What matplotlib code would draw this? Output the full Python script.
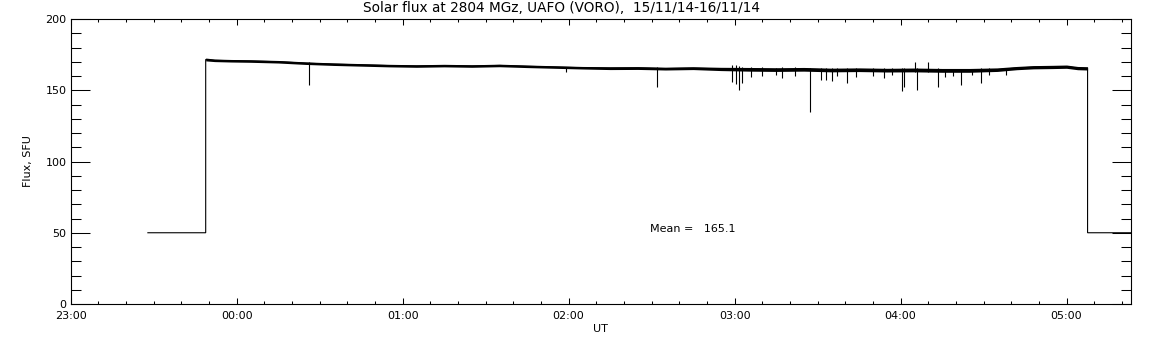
import matplotlib
matplotlib.use("Agg")
import matplotlib.pyplot as plt
from matplotlib.ticker import MultipleLocator, FixedLocator

# ---- data (time in minutes after 23:00 UT, flux in SFU) ----
band_t = [48.8, 52, 58, 65, 75, 85, 95, 105, 115, 125, 135, 145, 155, 165,
          175, 185, 195, 205, 215, 225, 235, 245, 255, 265, 275, 285, 295,
          305, 315, 325, 335, 342, 348, 355, 360, 364, 367.6]
band_c = [171.6, 171.0, 170.7, 170.5, 170.0, 169.0, 168.3, 167.8, 167.3,
          167.0, 167.3, 167.0, 167.4, 166.8, 166.3, 165.8, 165.5, 165.6,
          165.2, 165.5, 165.0, 164.8, 164.6, 164.8, 164.3, 164.5, 164.2,
          164.3, 164.0, 164.0, 164.5, 165.6, 166.2, 166.4, 166.6, 165.6, 165.4]
band_hi = [172.6, 171.9, 171.6, 171.4, 170.9, 169.9, 169.2, 168.7, 168.2,
           167.9, 168.2, 167.9, 168.3, 167.7, 167.2, 166.7, 166.5, 166.6,
           166.2, 166.5, 166.1, 166.0, 165.8, 166.0, 165.5, 165.7, 165.4,
           165.6, 165.3, 165.3, 165.7, 166.7, 167.3, 167.5, 167.7, 166.7, 166.5]
band_lo = [170.6, 170.1, 169.8, 169.6, 169.1, 168.1, 167.4, 166.9, 166.4,
           166.1, 166.4, 166.1, 166.5, 165.9, 165.4, 164.9, 164.5, 164.6,
           164.2, 164.5, 163.8, 163.4, 163.2, 163.4, 162.9, 163.1, 162.8,
           162.9, 162.6, 162.6, 163.2, 164.4, 165.0, 165.2, 165.4, 164.4, 164.2]

# step part before / after the observation
pre_t = [27.9, 48.8]
pre_v = [50.0, 50.0]
post_t = [367.6, 383.6]
post_v = [50.0, 50.0]

# spikes: time, lower end, upper end
spike_t = [86.2, 179.0, 211.8, 239.1, 240.4, 241.6, 242.7, 246.0, 250.0,
           255.0, 257.1, 262.0, 267.1, 271.1, 272.9, 275.2, 277.0, 280.6,
           284.0, 290.0, 294.0, 297.0, 300.4, 301.2, 305.1, 305.9, 309.9,
           313.7, 316.0, 319.0, 322.0, 326.0, 328.9, 332.0, 338.0]
spike_lo = [153.8, 162.6, 152.5, 156.0, 154.5, 150.3, 155.0, 159.5, 160.0,
            160.5, 158.8, 159.8, 134.5, 157.5, 157.0, 156.6, 160.0, 155.4,
            159.0, 160.0, 158.5, 160.5, 149.5, 152.0, 163.0, 150.2, 163.0,
            152.5, 159.0, 160.0, 154.0, 160.5, 155.3, 160.5, 161.0]
spike_hi = [170.0, 166.5, 166.5, 167.5, 167.7, 167.0, 166.5, 166.2, 166.0,
            165.8, 166.0, 166.0, 165.8, 165.6, 165.6, 165.5, 165.5, 165.5,
            165.5, 165.4, 165.3, 165.3, 165.4, 165.4, 169.5, 165.5, 169.5,
            165.3, 165.2, 165.2, 165.2, 165.2, 165.3, 165.4, 165.8]

tick_pos = [0, 60, 120, 180, 240, 300, 360]
tick_lab = ["23:00", "00:00", "01:00", "02:00", "03:00", "04:00", "05:00"]
title = "Solar flux at 2804 MGz, UAFO (VORO),  15/11/14-16/11/14"
mean_text = "Mean =   165.1"
mean_pos = (209.4, 52.3)

# ---- figure ----
plt.rcParams['font.family'] = ['DejaVu Sans']
fig = plt.figure(figsize=(11.52, 3.45), dpi=100)
ax = fig.add_axes([70.7 / 1152, 41 / 345, (1131 - 70.7) / 1152, 285 / 345])

# full flux trace
full_t = pre_t + [band_t[0]] + band_t + [post_t[0]] + post_t
full_v = pre_v + [band_c[0]] + band_c + [post_v[0]] + post_v
ax.plot(full_t, full_v, color='black', lw=0.8, solid_joinstyle='miter')
ax.fill_between(band_t, band_lo, band_hi, color='black', lw=0)
ax.vlines(spike_t, spike_lo, spike_hi, color='black', lw=0.8)

ax.set_xlim(0, 383.3)
ax.set_ylim(0, 200)
ax.xaxis.set_major_locator(FixedLocator(tick_pos))
ax.set_xticklabels(tick_lab)
ax.xaxis.set_minor_locator(MultipleLocator(10))
ax.yaxis.set_major_locator(MultipleLocator(50))
ax.yaxis.set_minor_locator(MultipleLocator(10))

ax.tick_params(axis='both', which='both', direction='in', width=0.75,
               top=True, right=True, labelsize=8, colors='black')
ax.tick_params(axis='y', which='major', length=14, pad=3)
ax.tick_params(axis='y', which='minor', length=7.2)
ax.tick_params(axis='x', which='major', length=4.3, pad=5)
ax.tick_params(axis='x', which='minor', length=2.2)
for s in ax.spines.values():
    s.set_linewidth(0.8)

ax.set_ylabel("Flux, SFU", fontsize=8, labelpad=9)
ax.set_xlabel("UT", fontsize=8, labelpad=2)
fig.text(561.7 / 1152, 1 - 8 / 345, title, ha='center', va='center', fontsize=9.8)
ax.text(mean_pos[0], mean_pos[1], mean_text, ha='left', va='center', fontsize=8)

fig.savefig("out.png", dpi=100)
